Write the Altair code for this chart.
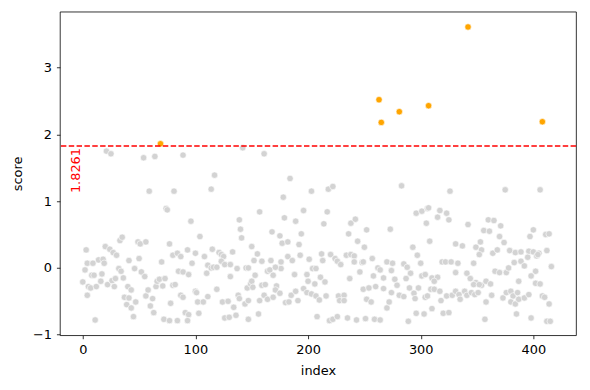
import altair as alt
import pandas as pd

THRESH = 1.8261

gray_idx = [
    0, 2, 3, 4, 5, 4, 7, 8, 9, 10, 11, 12, 14, 16, 17, 18, 19, 20, 21, 22, 24, 25, 26, 27, 28, 29, 30,
    32, 33, 34, 35, 36, 37, 39, 40, 41, 41, 43, 45, 46, 47, 43, 49, 50, 51, 52, 54, 55, 56, 56, 58,
    59, 60, 62, 63, 64, 65, 66, 68, 70,
    89, 142, 117, 114, 81, 74, 75, 96, 104, 77, 139, 140, 141, 80, 84, 87, 93, 100, 97, 108, 115,
    121, 123, 125, 133, 111, 114, 116, 119, 123, 126, 131, 137, 145, 150, 152, 85, 89, 94, 110, 131,
    73, 71, 80, 82, 87, 89, 100, 101, 102, 107, 111, 119, 78, 91, 94, 93, 72, 77, 84, 103, 124, 129,
    134, 138, 139, 144, 146, 149, 150, 147, 126, 130, 136, 147,
    161, 184, 178, 203, 218, 222, 157, 196, 217, 179, 189, 214, 168, 175, 194, 177, 182, 192, 155,
    159, 167, 176, 182, 186, 193, 201, 212, 213, 220, 224, 226, 229, 147, 153, 164, 166, 169, 176,
    171, 188, 199, 204, 207, 211, 215, 151, 159, 162, 172, 171, 175, 200, 206, 157, 161, 164, 169,
    185, 189, 191, 196, 199, 203, 207, 210, 216, 180, 183, 227, 228, 156, 208, 219, 222, 226,
    283, 296, 301, 306, 238, 242, 236, 252, 273, 305, 308, 244, 250, 293, 234, 238, 241, 241, 248,
    249, 257, 262, 264, 270, 275, 274, 285, 288, 291, 297, 300, 301, 304, 246, 237, 258, 267, 277,
    287, 249, 254, 260, 267, 274, 279, 281, 285, 290, 294, 295, 298, 304, 309, 232, 232, 252, 256,
    270, 272, 235, 243, 251, 259, 264, 289, 296, 303, 310,
    326, 375, 307, 317, 323, 325, 315, 342, 360, 365, 371, 356, 361, 370, 374, 331, 337, 353, 349,
    354, 352, 364, 368, 379, 384, 389, 319, 322, 327, 333, 347, 331, 341, 344, 349, 347, 354, 366,
    370, 376, 378, 383, 387, 310, 315, 312, 312, 317, 306, 323, 328, 331, 334, 335, 339, 341, 345,
    348, 351, 352, 358, 362, 363, 358, 373, 376, 380, 382, 380, 384, 387, 318, 320, 325, 357, 385,
    406, 400, 397, 411, 414, 396, 400, 405, 412, 389, 392, 395, 403, 404, 416, 402, 398, 402, 406,
    386, 392, 396, 408, 410, 414, 398, 412, 415,
]

gray_score = [
    -0.21, -0.03, 0.27, 0.07, -0.28, -0.41, -0.30, -0.11, 0.07, -0.11, -0.78, -0.28, 0.12, -0.20,
    -0.09, 0.13, 0.07, 0.32, 1.75, -0.25, 0.28, 1.71, -0.19, 0.23, -0.28, -0.16, 0.19,
    -0.01, 0.41, -0.05, 0.46, -0.15, -0.44, -0.55, -0.28, 0.11, -0.45, -0.33, -0.73, -0.01, -0.51,
    -0.60, 0.39, 0.14, 0.36, -0.06, 1.65, -0.13, 0.39, -0.42, -0.33,
    1.15, -0.57, -0.46, -0.67, 1.67, -0.28, -0.20, -0.17, 0.09,
    1.69, 1.80, 1.39, 1.18, 1.15, 0.89, 0.87, 0.70, 0.47, 0.36, 0.72, 0.58, 0.45, 0.19, 0.22, 0.17,
    0.27, 0.22, 0.07, 0.17, 0.28,
    0.23, 0.20, 0.17, 0.24, 0.04, 0.0, 0.01, 0.01, 0.10, 0.05, 0.05, -0.01, 0.0, 0.32,
    0.11, -0.05, -0.06, -0.10, -0.08, -0.13,
    -0.16, -0.27, -0.26, -0.25, -0.41, -0.44, -0.35, -0.37, -0.51, -0.51, -0.43, -0.32, -0.53, -0.67,
    -0.70, -0.79, -0.77, -0.79, -0.79, -0.68, -0.51, -0.50,
    -0.59, -0.41, -0.46, -0.54, -0.30, -0.24, -0.20, -0.49, -0.75, -0.74, -0.71, -0.77,
    1.71, 1.34, 1.06, 1.15, 1.18, 1.22, 0.84, 0.86, 0.84, 0.75, 0.70, 0.66, 0.54, 0.48, 0.51, 0.37,
    0.39, 0.35, 0.21,
    0.10, 0.11, 0.09, 0.17, 0.11, 0.19, 0.13, 0.21, 0.11, 0.20, 0.14, 0.10, 0.05, 0.0, -0.11,
    -0.05, -0.03, -0.11, -0.01,
    0.01, -0.10, -0.10, -0.01, -0.01, -0.14, -0.21, -0.29, -0.26, -0.25, -0.27, -0.33, -0.38,
    -0.20, -0.24, -0.49, -0.41, -0.47, -0.44,
    -0.41, -0.35, -0.49, -0.31, -0.37, -0.39, -0.42, -0.48, -0.42, -0.52, -0.51, -0.42, -0.49, -0.69,
    -0.73, -0.79, -0.77, -0.73,
    1.23, 0.82, 0.85, 0.89, 0.67, 0.73, 0.51, 0.57, 0.58, 0.67, 0.40, 0.40, 0.31, 0.31, 0.19, 0.20,
    0.18, 0.09, 0.08,
    0.09, 0.14, 0.0, -0.03, 0.09, 0.07, -0.04, 0.06, 0.01, -0.08, 0.19, 0.07, -0.12,
    -0.10, -0.06, -0.16, -0.12, -0.15, -0.17,
    -0.16, -0.32, -0.30, -0.28, -0.31, -0.37, -0.26, -0.41, -0.43, -0.30, -0.38, -0.46, -0.30, -0.44,
    -0.32, -0.41, -0.49, -0.47, -0.51,
    -0.60, -0.51, -0.75, -0.78, -0.76, -0.77, -0.78, -0.80, -0.68, -0.69, -0.61,
    1.15, 1.17, 0.90, 0.86, 0.82, 0.72, 0.76, 0.65, 0.72, 0.71, 0.63, 0.56, 0.55, 0.47, 0.38, 0.36,
    0.33, 0.39, 0.31,
    0.27, 0.20, 0.22, 0.27, 0.26, 0.23, 0.24, 0.09, 0.09, 0.09, 0.07, 0.07, -0.07, -0.08, -0.16,
    -0.22, -0.25, -0.26, -0.05,
    -0.07, -0.07, 0.0, 0.08, -0.20, -0.15, -0.14, -0.20, -0.32, -0.35, -0.42, -0.42, -0.41, -0.35,
    -0.40, -0.47, -0.35, -0.41, -0.37,
    -0.40, -0.37, -0.25, -0.20, -0.24, -0.41, -0.51, -0.45, -0.37, -0.35, -0.42, -0.51, -0.54, -0.47,
    -0.49, -0.68, -0.67, -0.77, -0.69,
    1.17, 0.57, 0.47, 0.50, 0.51, 0.25, 0.24, 0.22, 0.26, 0.10, 0.03, 0.16, 0.18, 0.20, 0.02,
    -0.05, -0.12, -0.23, -0.24,
    -0.37, -0.45, -0.40, -0.42, -0.44, -0.54, -0.75, -0.80, -0.80,
]

orange_idx = [69, 263, 265, 281, 307, 342, 408]
orange_score = [1.86, 2.52, 2.18, 2.34, 2.43, 3.61, 2.19]

n = min(len(gray_idx), len(gray_score))
df = pd.DataFrame({
    "index": list(gray_idx[:n]) + orange_idx,
    "score": list(gray_score[:n]) + orange_score,
})
df["flag"] = df["score"] > THRESH

FONT = "DejaVu Sans"

x_scale = alt.Scale(domain=[-20.3, 437.9], nice=False, zero=False)
y_scale = alt.Scale(domain=[-1.009, 3.839], nice=False, zero=False)

points = alt.Chart(df).mark_circle(
    size=42, stroke="white", strokeWidth=0.6, opacity=1
).encode(
    x=alt.X("index:Q", scale=x_scale,
            axis=alt.Axis(values=[0, 100, 200, 300, 400], title="index", format="d")),
    y=alt.Y("score:Q", scale=y_scale,
            axis=alt.Axis(values=[-1, 0, 1, 2, 3], title="score", format="d")),
    color=alt.Color("flag:N", scale=alt.Scale(domain=[False, True], range=["#d3d3d3", "#ffa500"]),
                    legend=None),
    order=alt.Order("flag:N"),
)

tdf = pd.DataFrame({"t": [THRESH], "label": [f"{THRESH:.4f}"]})

rule = alt.Chart(tdf).mark_rule(color="red", strokeDash=[5.5, 2.4], strokeWidth=1.5).encode(
    y=alt.Y("t:Q", scale=y_scale)
)

label = alt.Chart(tdf).mark_text(
    angle=270, align="right", baseline="middle", color="red", fontSize=13, font=FONT, yOffset=2
).encode(
    x=alt.value(16.4),
    y=alt.Y("t:Q", scale=y_scale),
    text="label:N",
)

chart = alt.layer(points, rule, label).properties(
    width=520, height=326,
    autosize=alt.AutoSizeParams(type="none"),
    padding={"left": 52.3, "top": 2.3, "right": 6, "bottom": 48},
).configure_view(
    stroke="black", strokeWidth=0.8
).configure_axis(
    grid=False, domain=False, tickColor="black", tickWidth=0.8, tickSize=3.5,
    labelFont=FONT, labelFontSize=13, labelColor="black", labelPadding=5,
    titleFont=FONT, titleFontSize=13, titleFontWeight="normal", titleColor="black",
).configure_axisX(titlePadding=8).configure_axisY(titlePadding=8)

chart.save("out.html", embed_options={"renderer": "svg", "actions": False})
